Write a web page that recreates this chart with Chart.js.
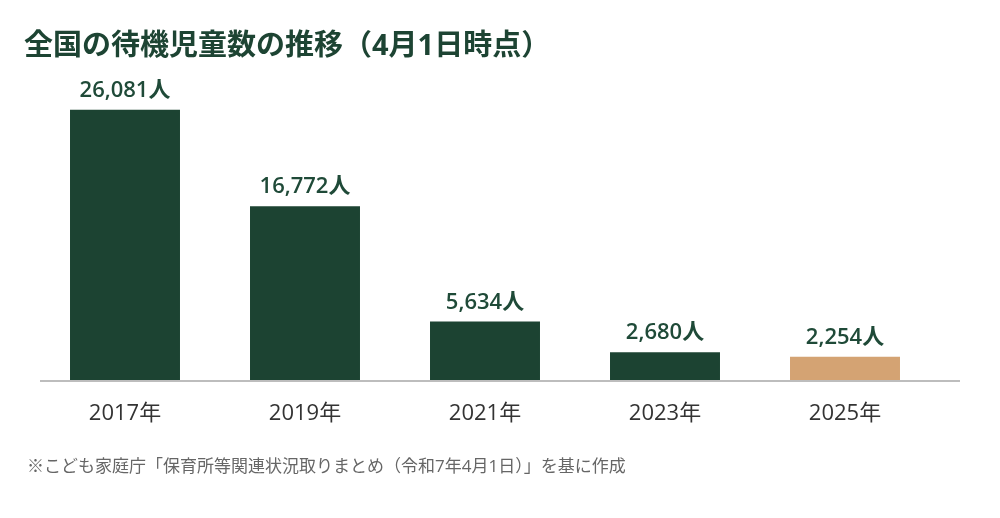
<!DOCTYPE html>
<html lang="ja">
<head>
<meta charset="utf-8">
<script src="https://cdn.jsdelivr.net/npm/chart.js@4.4.1/dist/chart.umd.min.js"></script>
<style>
	html, body { margin: 0; padding: 0; background: #fff; }
	#wrap { position: relative; width: 1000px; height: 518px; overflow: hidden; }
	#chart { position: absolute; left: 0; top: 0; }
	.title {
		position: absolute; left: 24px; top: 29px;
		font: bold 29px/29px "Open Sans", "Noto Sans CJK JP", sans-serif;
		color: #1d4433; white-space: nowrap;
	}
	.note {
		position: absolute; left: 27px; top: 457px;
		font: 17px/17px "Open Sans", "Noto Sans CJK JP", sans-serif;
		color: #666; white-space: nowrap;
	}
</style>
</head>
<body>
<div id="wrap">
	<canvas id="chart" width="1000" height="518"></canvas>
	<div class="title">全国の待機児童数の推移（4月1日時点）</div>
	<div class="note">※こども家庭庁「保育所等関連状況取りまとめ（令和7年4月1日）」を基に作成</div>
</div>
<script>
const years = ['2017年', '2019年', '2021年', '2023年', '2025年'];
const waiting = [26081, 16772, 5634, 2680, 2254];
const barColors = ['#1c4332', '#1c4332', '#1c4332', '#1c4332', '#d4a373'];

const fontFamily = '"Open Sans", "Noto Sans CJK JP", sans-serif';

// value labels above each bar + grey baseline
const decorations = {
	id: 'decorations',
	afterDatasetsDraw(chart) {
		const { ctx, chartArea } = chart;
		ctx.save();
		ctx.strokeStyle = '#bdbdbd';
		ctx.lineWidth = 2;
		ctx.beginPath();
		ctx.moveTo(chartArea.left + 5, chartArea.bottom + 1);
		ctx.lineTo(chartArea.right + 25, chartArea.bottom + 1);
		ctx.stroke();

		ctx.fillStyle = '#1f4a38';
		ctx.font = '600 22px ' + fontFamily;
		ctx.textAlign = 'center';
		ctx.textBaseline = 'alphabetic';
		chart.getDatasetMeta(0).data.forEach((bar, i) => {
			ctx.fillText(waiting[i].toLocaleString('en-US') + '人', bar.x, bar.y - 13);
		});
		ctx.restore();
	}
};

new Chart(document.getElementById('chart'), {
	type: 'bar',
	data: {
		labels: years,
		datasets: [{
			data: waiting,
			backgroundColor: barColors,
			borderWidth: 0,
			categoryPercentage: 0.611,
			barPercentage: 1
		}]
	},
	options: {
		responsive: false,
		animation: false,
		layout: { padding: { left: 35, right: 65, top: 69, bottom: 0 } },
		plugins: { legend: { display: false }, tooltip: { enabled: false } },
		scales: {
			x: {
				grid: { display: false },
				border: { display: false },
				ticks: { color: '#333', font: { family: fontFamily, size: 22 }, padding: 13 },
				afterFit(scale) { scale.height = 138; }
			},
			y: {
				display: false,
				min: 0,
				max: 30000
			}
		}
	},
	plugins: [decorations]
});
</script>
</body>
</html>
